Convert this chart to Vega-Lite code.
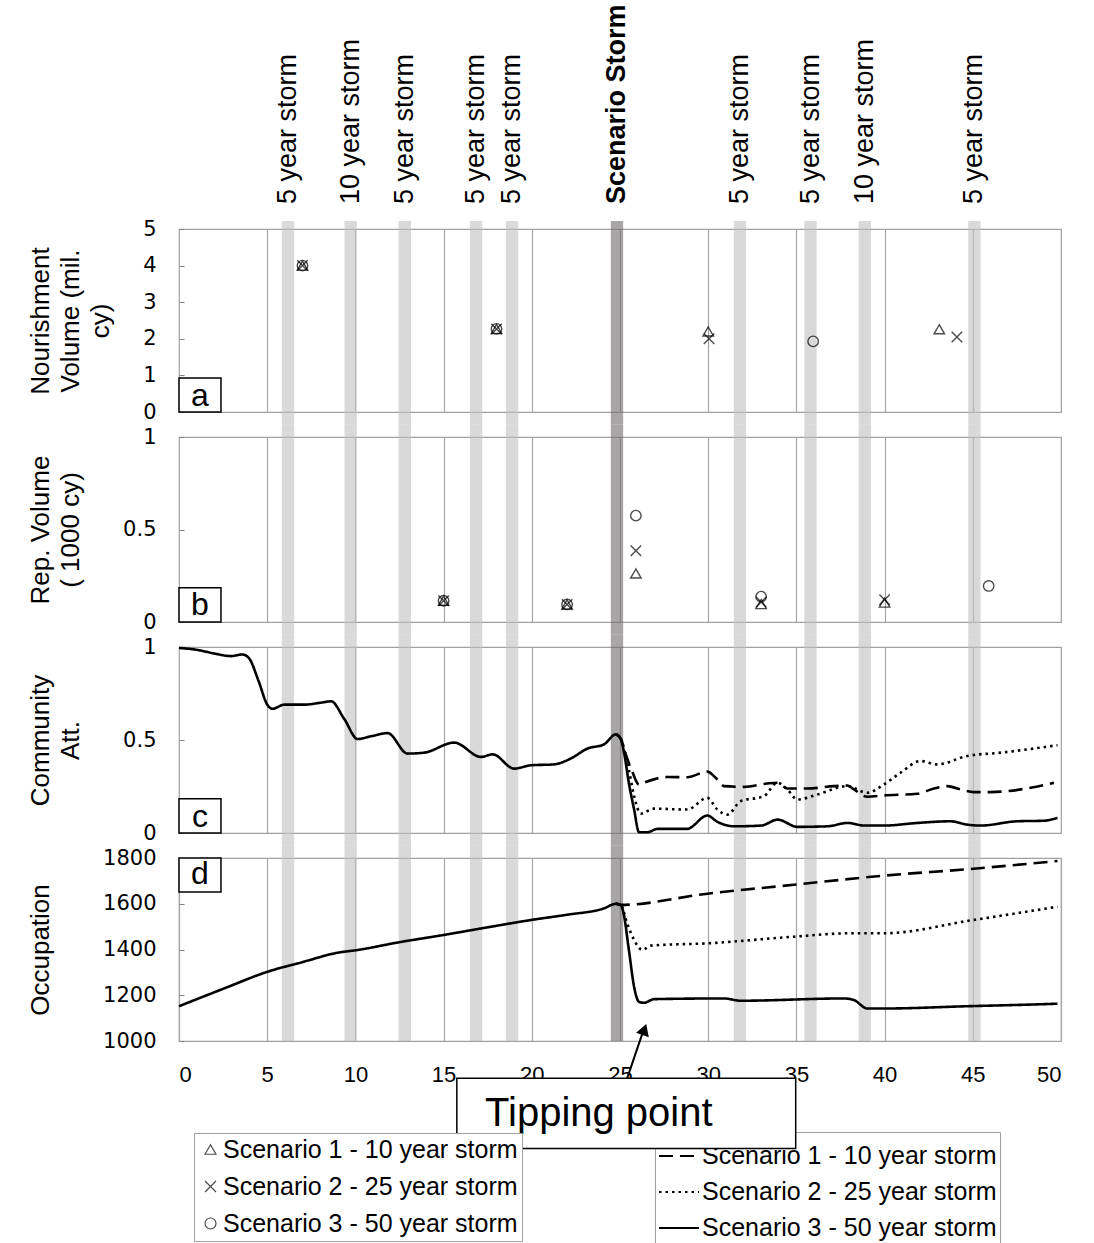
{
  "$schema": "https://vega.github.io/schema/vega-lite/v6.json",
  "background": "white",
  "padding": {"left": 26, "top": 0, "right": 0, "bottom": 0},
  "spacing": 25,
  "bounds": "flush",
  "resolve": {"scale": {"x": "shared", "y": "independent", "shape": "shared", "strokeDash": "shared"}, "legend": {"strokeDash": "independent"}},
  "datasets": {
    "storms": [
      {"start": 5.83, "end": 6.53, "center": 6.18, "label": "5 year storm"},
      {"start": 9.38, "end": 10.08, "center": 9.73, "label": "10 year storm"},
      {"start": 12.45, "end": 13.15, "center": 12.8, "label": "5 year storm"},
      {"start": 16.49, "end": 17.19, "center": 16.84, "label": "5 year storm"},
      {"start": 18.53, "end": 19.23, "center": 18.88, "label": "5 year storm"},
      {"start": 24.48, "end": 25.18, "center": 24.83, "label": "Scenario Storm"},
      {"start": 31.45, "end": 32.15, "center": 31.8, "label": "5 year storm"},
      {"start": 35.45, "end": 36.15, "center": 35.8, "label": "5 year storm"},
      {"start": 38.53, "end": 39.23, "center": 38.88, "label": "10 year storm"},
      {"start": 44.74, "end": 45.44, "center": 45.09, "label": "5 year storm"}
    ],
    "nourishment": [
      {"year": 7, "value": 4.0, "scenario": "Scenario 1 - 10 year storm"},
      {"year": 7, "value": 4.0, "scenario": "Scenario 2 - 25 year storm"},
      {"year": 7, "value": 4.0, "scenario": "Scenario 3 - 50 year storm"},
      {"year": 18, "value": 2.27, "scenario": "Scenario 1 - 10 year storm"},
      {"year": 18, "value": 2.27, "scenario": "Scenario 2 - 25 year storm"},
      {"year": 18, "value": 2.27, "scenario": "Scenario 3 - 50 year storm"},
      {"year": 30, "value": 2.2, "scenario": "Scenario 1 - 10 year storm"},
      {"year": 30.05, "value": 2.0, "scenario": "Scenario 2 - 25 year storm"},
      {"year": 35.95, "value": 1.93, "scenario": "Scenario 3 - 50 year storm"},
      {"year": 43.1, "value": 2.26, "scenario": "Scenario 1 - 10 year storm"},
      {"year": 44.1, "value": 2.05, "scenario": "Scenario 2 - 25 year storm"}
    ],
    "repair": [
      {"year": 15, "value": 0.115, "scenario": "Scenario 1 - 10 year storm"},
      {"year": 15, "value": 0.115, "scenario": "Scenario 2 - 25 year storm"},
      {"year": 15, "value": 0.115, "scenario": "Scenario 3 - 50 year storm"},
      {"year": 22, "value": 0.095, "scenario": "Scenario 1 - 10 year storm"},
      {"year": 22, "value": 0.095, "scenario": "Scenario 2 - 25 year storm"},
      {"year": 22, "value": 0.095, "scenario": "Scenario 3 - 50 year storm"},
      {"year": 25.9, "value": 0.262, "scenario": "Scenario 1 - 10 year storm"},
      {"year": 25.9, "value": 0.385, "scenario": "Scenario 2 - 25 year storm"},
      {"year": 25.9, "value": 0.575, "scenario": "Scenario 3 - 50 year storm"},
      {"year": 33, "value": 0.097, "scenario": "Scenario 1 - 10 year storm"},
      {"year": 33, "value": 0.108, "scenario": "Scenario 2 - 25 year storm"},
      {"year": 33, "value": 0.137, "scenario": "Scenario 3 - 50 year storm"},
      {"year": 40, "value": 0.105, "scenario": "Scenario 1 - 10 year storm"},
      {"year": 40, "value": 0.12, "scenario": "Scenario 2 - 25 year storm"},
      {"year": 45.9, "value": 0.195, "scenario": "Scenario 3 - 50 year storm"}
    ],
    "attitude": [
      {"year": 0, "value": 0.995, "scenario": "Scenario 3 - 50 year storm"},
      {"year": 1, "value": 0.985, "scenario": "Scenario 3 - 50 year storm"},
      {"year": 2, "value": 0.965, "scenario": "Scenario 3 - 50 year storm"},
      {"year": 2.94, "value": 0.951, "scenario": "Scenario 3 - 50 year storm"},
      {"year": 3.6, "value": 0.96, "scenario": "Scenario 3 - 50 year storm"},
      {"year": 3.99, "value": 0.937, "scenario": "Scenario 3 - 50 year storm"},
      {"year": 4.5, "value": 0.82, "scenario": "Scenario 3 - 50 year storm"},
      {"year": 5.03, "value": 0.686, "scenario": "Scenario 3 - 50 year storm"},
      {"year": 5.3, "value": 0.668, "scenario": "Scenario 3 - 50 year storm"},
      {"year": 5.97, "value": 0.69, "scenario": "Scenario 3 - 50 year storm"},
      {"year": 7.1, "value": 0.69, "scenario": "Scenario 3 - 50 year storm"},
      {"year": 8.0, "value": 0.7, "scenario": "Scenario 3 - 50 year storm"},
      {"year": 8.62, "value": 0.708, "scenario": "Scenario 3 - 50 year storm"},
      {"year": 9.37, "value": 0.613, "scenario": "Scenario 3 - 50 year storm"},
      {"year": 10.13, "value": 0.505, "scenario": "Scenario 3 - 50 year storm"},
      {"year": 10.88, "value": 0.52, "scenario": "Scenario 3 - 50 year storm"},
      {"year": 11.83, "value": 0.537, "scenario": "Scenario 3 - 50 year storm"},
      {"year": 12.96, "value": 0.427, "scenario": "Scenario 3 - 50 year storm"},
      {"year": 13.9, "value": 0.432, "scenario": "Scenario 3 - 50 year storm"},
      {"year": 15.6, "value": 0.486, "scenario": "Scenario 3 - 50 year storm"},
      {"year": 17.12, "value": 0.409, "scenario": "Scenario 3 - 50 year storm"},
      {"year": 17.78, "value": 0.423, "scenario": "Scenario 3 - 50 year storm"},
      {"year": 19.0, "value": 0.346, "scenario": "Scenario 3 - 50 year storm"},
      {"year": 19.95, "value": 0.364, "scenario": "Scenario 3 - 50 year storm"},
      {"year": 21.27, "value": 0.369, "scenario": "Scenario 3 - 50 year storm"},
      {"year": 22.2, "value": 0.4, "scenario": "Scenario 3 - 50 year storm"},
      {"year": 23.16, "value": 0.454, "scenario": "Scenario 3 - 50 year storm"},
      {"year": 24.1, "value": 0.477, "scenario": "Scenario 3 - 50 year storm"},
      {"year": 24.77, "value": 0.531, "scenario": "Scenario 3 - 50 year storm"},
      {"year": 25.05, "value": 0.505, "scenario": "Scenario 3 - 50 year storm"},
      {"year": 25.23, "value": 0.432, "scenario": "Scenario 3 - 50 year storm"},
      {"year": 25.5, "value": 0.27, "scenario": "Scenario 3 - 50 year storm"},
      {"year": 25.8, "value": 0.126, "scenario": "Scenario 3 - 50 year storm"},
      {"year": 26.08, "value": 0.004, "scenario": "Scenario 3 - 50 year storm"},
      {"year": 26.55, "value": 0.004, "scenario": "Scenario 3 - 50 year storm"},
      {"year": 27.12, "value": 0.022, "scenario": "Scenario 3 - 50 year storm"},
      {"year": 28.8, "value": 0.022, "scenario": "Scenario 3 - 50 year storm"},
      {"year": 29.95, "value": 0.094, "scenario": "Scenario 3 - 50 year storm"},
      {"year": 30.52, "value": 0.06, "scenario": "Scenario 3 - 50 year storm"},
      {"year": 31.47, "value": 0.036, "scenario": "Scenario 3 - 50 year storm"},
      {"year": 33.0, "value": 0.04, "scenario": "Scenario 3 - 50 year storm"},
      {"year": 33.94, "value": 0.072, "scenario": "Scenario 3 - 50 year storm"},
      {"year": 35.05, "value": 0.033, "scenario": "Scenario 3 - 50 year storm"},
      {"year": 36.75, "value": 0.036, "scenario": "Scenario 3 - 50 year storm"},
      {"year": 37.9, "value": 0.054, "scenario": "Scenario 3 - 50 year storm"},
      {"year": 38.85, "value": 0.04, "scenario": "Scenario 3 - 50 year storm"},
      {"year": 39.96, "value": 0.04, "scenario": "Scenario 3 - 50 year storm"},
      {"year": 41.85, "value": 0.054, "scenario": "Scenario 3 - 50 year storm"},
      {"year": 43.74, "value": 0.063, "scenario": "Scenario 3 - 50 year storm"},
      {"year": 44.68, "value": 0.045, "scenario": "Scenario 3 - 50 year storm"},
      {"year": 45.44, "value": 0.04, "scenario": "Scenario 3 - 50 year storm"},
      {"year": 47.5, "value": 0.063, "scenario": "Scenario 3 - 50 year storm"},
      {"year": 49.02, "value": 0.066, "scenario": "Scenario 3 - 50 year storm"},
      {"year": 49.8, "value": 0.081, "scenario": "Scenario 3 - 50 year storm"},
      {"year": 24.77, "value": 0.531, "scenario": "Scenario 1 - 10 year storm"},
      {"year": 25.05, "value": 0.505, "scenario": "Scenario 1 - 10 year storm"},
      {"year": 25.3, "value": 0.43, "scenario": "Scenario 1 - 10 year storm"},
      {"year": 25.72, "value": 0.324, "scenario": "Scenario 1 - 10 year storm"},
      {"year": 26.08, "value": 0.26, "scenario": "Scenario 1 - 10 year storm"},
      {"year": 26.46, "value": 0.274, "scenario": "Scenario 1 - 10 year storm"},
      {"year": 27.69, "value": 0.301, "scenario": "Scenario 1 - 10 year storm"},
      {"year": 28.82, "value": 0.3, "scenario": "Scenario 1 - 10 year storm"},
      {"year": 29.95, "value": 0.33, "scenario": "Scenario 1 - 10 year storm"},
      {"year": 30.42, "value": 0.297, "scenario": "Scenario 1 - 10 year storm"},
      {"year": 30.9, "value": 0.252, "scenario": "Scenario 1 - 10 year storm"},
      {"year": 32.03, "value": 0.248, "scenario": "Scenario 1 - 10 year storm"},
      {"year": 33.35, "value": 0.266, "scenario": "Scenario 1 - 10 year storm"},
      {"year": 33.92, "value": 0.27, "scenario": "Scenario 1 - 10 year storm"},
      {"year": 34.49, "value": 0.239, "scenario": "Scenario 1 - 10 year storm"},
      {"year": 35.62, "value": 0.239, "scenario": "Scenario 1 - 10 year storm"},
      {"year": 37.13, "value": 0.252, "scenario": "Scenario 1 - 10 year storm"},
      {"year": 37.9, "value": 0.255, "scenario": "Scenario 1 - 10 year storm"},
      {"year": 38.26, "value": 0.234, "scenario": "Scenario 1 - 10 year storm"},
      {"year": 39.02, "value": 0.195, "scenario": "Scenario 1 - 10 year storm"},
      {"year": 39.96, "value": 0.202, "scenario": "Scenario 1 - 10 year storm"},
      {"year": 41.85, "value": 0.211, "scenario": "Scenario 1 - 10 year storm"},
      {"year": 42.8, "value": 0.239, "scenario": "Scenario 1 - 10 year storm"},
      {"year": 43.55, "value": 0.252, "scenario": "Scenario 1 - 10 year storm"},
      {"year": 44.3, "value": 0.234, "scenario": "Scenario 1 - 10 year storm"},
      {"year": 45.06, "value": 0.22, "scenario": "Scenario 1 - 10 year storm"},
      {"year": 46.0, "value": 0.22, "scenario": "Scenario 1 - 10 year storm"},
      {"year": 48.27, "value": 0.243, "scenario": "Scenario 1 - 10 year storm"},
      {"year": 49.6, "value": 0.27, "scenario": "Scenario 1 - 10 year storm"},
      {"year": 24.77, "value": 0.531, "scenario": "Scenario 2 - 25 year storm"},
      {"year": 25.05, "value": 0.505, "scenario": "Scenario 2 - 25 year storm"},
      {"year": 25.5, "value": 0.342, "scenario": "Scenario 2 - 25 year storm"},
      {"year": 25.8, "value": 0.198, "scenario": "Scenario 2 - 25 year storm"},
      {"year": 26.18, "value": 0.104, "scenario": "Scenario 2 - 25 year storm"},
      {"year": 26.93, "value": 0.131, "scenario": "Scenario 2 - 25 year storm"},
      {"year": 28.82, "value": 0.126, "scenario": "Scenario 2 - 25 year storm"},
      {"year": 29.95, "value": 0.189, "scenario": "Scenario 2 - 25 year storm"},
      {"year": 30.52, "value": 0.126, "scenario": "Scenario 2 - 25 year storm"},
      {"year": 31.09, "value": 0.099, "scenario": "Scenario 2 - 25 year storm"},
      {"year": 31.84, "value": 0.171, "scenario": "Scenario 2 - 25 year storm"},
      {"year": 33.16, "value": 0.198, "scenario": "Scenario 2 - 25 year storm"},
      {"year": 33.92, "value": 0.27, "scenario": "Scenario 2 - 25 year storm"},
      {"year": 34.49, "value": 0.234, "scenario": "Scenario 2 - 25 year storm"},
      {"year": 35.05, "value": 0.18, "scenario": "Scenario 2 - 25 year storm"},
      {"year": 36.19, "value": 0.207, "scenario": "Scenario 2 - 25 year storm"},
      {"year": 37.9, "value": 0.252, "scenario": "Scenario 2 - 25 year storm"},
      {"year": 39.02, "value": 0.216, "scenario": "Scenario 2 - 25 year storm"},
      {"year": 39.96, "value": 0.261, "scenario": "Scenario 2 - 25 year storm"},
      {"year": 40.9, "value": 0.324, "scenario": "Scenario 2 - 25 year storm"},
      {"year": 42.04, "value": 0.387, "scenario": "Scenario 2 - 25 year storm"},
      {"year": 42.98, "value": 0.369, "scenario": "Scenario 2 - 25 year storm"},
      {"year": 44.68, "value": 0.414, "scenario": "Scenario 2 - 25 year storm"},
      {"year": 46.6, "value": 0.432, "scenario": "Scenario 2 - 25 year storm"},
      {"year": 49.8, "value": 0.472, "scenario": "Scenario 2 - 25 year storm"}
    ],
    "occupation": [
      {"year": 0, "value": 1152, "scenario": "Scenario 3 - 50 year storm"},
      {"year": 2.5, "value": 1228, "scenario": "Scenario 3 - 50 year storm"},
      {"year": 5.03, "value": 1303, "scenario": "Scenario 3 - 50 year storm"},
      {"year": 7, "value": 1345, "scenario": "Scenario 3 - 50 year storm"},
      {"year": 9.0, "value": 1386, "scenario": "Scenario 3 - 50 year storm"},
      {"year": 10.13, "value": 1398, "scenario": "Scenario 3 - 50 year storm"},
      {"year": 12.5, "value": 1432, "scenario": "Scenario 3 - 50 year storm"},
      {"year": 15.04, "value": 1464, "scenario": "Scenario 3 - 50 year storm"},
      {"year": 17.5, "value": 1497, "scenario": "Scenario 3 - 50 year storm"},
      {"year": 20.04, "value": 1530, "scenario": "Scenario 3 - 50 year storm"},
      {"year": 22, "value": 1552, "scenario": "Scenario 3 - 50 year storm"},
      {"year": 24.1, "value": 1580, "scenario": "Scenario 3 - 50 year storm"},
      {"year": 24.77, "value": 1600, "scenario": "Scenario 3 - 50 year storm"},
      {"year": 25.05, "value": 1595, "scenario": "Scenario 3 - 50 year storm"},
      {"year": 25.2, "value": 1559, "scenario": "Scenario 3 - 50 year storm"},
      {"year": 25.5, "value": 1400, "scenario": "Scenario 3 - 50 year storm"},
      {"year": 25.8, "value": 1237, "scenario": "Scenario 3 - 50 year storm"},
      {"year": 26.08, "value": 1171, "scenario": "Scenario 3 - 50 year storm"},
      {"year": 26.37, "value": 1167, "scenario": "Scenario 3 - 50 year storm"},
      {"year": 26.93, "value": 1183, "scenario": "Scenario 3 - 50 year storm"},
      {"year": 30.9, "value": 1186, "scenario": "Scenario 3 - 50 year storm"},
      {"year": 31.84, "value": 1176, "scenario": "Scenario 3 - 50 year storm"},
      {"year": 37.7, "value": 1186, "scenario": "Scenario 3 - 50 year storm"},
      {"year": 38.26, "value": 1179, "scenario": "Scenario 3 - 50 year storm"},
      {"year": 39.02, "value": 1142, "scenario": "Scenario 3 - 50 year storm"},
      {"year": 39.96, "value": 1142, "scenario": "Scenario 3 - 50 year storm"},
      {"year": 44.68, "value": 1152, "scenario": "Scenario 3 - 50 year storm"},
      {"year": 49.02, "value": 1161, "scenario": "Scenario 3 - 50 year storm"},
      {"year": 49.8, "value": 1163, "scenario": "Scenario 3 - 50 year storm"},
      {"year": 24.77, "value": 1600, "scenario": "Scenario 1 - 10 year storm"},
      {"year": 25.05, "value": 1595, "scenario": "Scenario 1 - 10 year storm"},
      {"year": 29.95, "value": 1644, "scenario": "Scenario 1 - 10 year storm"},
      {"year": 34.86, "value": 1683, "scenario": "Scenario 1 - 10 year storm"},
      {"year": 39.96, "value": 1723, "scenario": "Scenario 1 - 10 year storm"},
      {"year": 44.87, "value": 1752, "scenario": "Scenario 1 - 10 year storm"},
      {"year": 49.8, "value": 1787, "scenario": "Scenario 1 - 10 year storm"},
      {"year": 24.77, "value": 1600, "scenario": "Scenario 2 - 25 year storm"},
      {"year": 25.05, "value": 1595, "scenario": "Scenario 2 - 25 year storm"},
      {"year": 25.4, "value": 1515, "scenario": "Scenario 2 - 25 year storm"},
      {"year": 25.8, "value": 1442, "scenario": "Scenario 2 - 25 year storm"},
      {"year": 26.27, "value": 1398, "scenario": "Scenario 2 - 25 year storm"},
      {"year": 26.74, "value": 1417, "scenario": "Scenario 2 - 25 year storm"},
      {"year": 29.95, "value": 1427, "scenario": "Scenario 2 - 25 year storm"},
      {"year": 34.86, "value": 1456, "scenario": "Scenario 2 - 25 year storm"},
      {"year": 38.07, "value": 1471, "scenario": "Scenario 2 - 25 year storm"},
      {"year": 39.96, "value": 1471, "scenario": "Scenario 2 - 25 year storm"},
      {"year": 44.87, "value": 1527, "scenario": "Scenario 2 - 25 year storm"},
      {"year": 49.8, "value": 1587, "scenario": "Scenario 2 - 25 year storm"}
    ]
  },
  "vconcat": [
    {
      "width": 882,
      "height": 204,
      "view": {"stroke": null},
      "data": {"name": "storms"},
      "layer": [
        {
          "transform": [{"filter": "datum.label !== 'Scenario Storm'"}],
          "mark": {"type": "text", "angle": 270, "align": "left", "baseline": "middle", "fontSize": 27, "color": "black"},
          "encoding": {
            "x": {"field": "center", "type": "quantitative", "scale": {"domain": [0, 50], "nice": false}, "axis": null},
            "y": {"datum": 0, "type": "quantitative", "scale": {"domain": [0, 1]}, "axis": null},
            "text": {"field": "label"}
          }
        },
        {
          "transform": [{"filter": "datum.label === 'Scenario Storm'"}],
          "mark": {"type": "text", "angle": 270, "align": "left", "baseline": "middle", "fontSize": 27, "fontWeight": "bold", "color": "black"},
          "encoding": {
            "x": {"field": "center", "type": "quantitative", "axis": null},
            "y": {"datum": 0, "type": "quantitative", "axis": null},
            "text": {"field": "label"}
          }
        }
      ]
    },
    {
      "width": 882,
      "height": 183,
      "layer": [
        {
          "data": {"name": "storms"},
          "mark": {"type": "rect", "opacity": 0.6},
          "encoding": {
            "x": {"field": "start", "type": "quantitative", "scale": {"domain": [0, 50], "nice": false},
                  "axis": {"title": null, "labels": false, "ticks": false, "grid": true, "values": [5, 10, 15, 20, 25, 30, 35, 40, 45]}},
            "x2": {"field": "end"},
            "y": {"datum": -0.34, "type": "quantitative", "scale": {"domain": [0, 5], "nice": false}, "axis": {"title": ["Nourishment", "Volume (mil.", "cy)"], "tickCount": 5, "labelOverlap": false}},
            "y2": {"datum": 5.22},
            "color": {"condition": {"test": "datum.label === 'Scenario Storm'", "value": "#6e6a6a"}, "value": "#bfbfbf"}
          }
        },
        {
          "data": {"name": "nourishment"},
          "mark": {"type": "point", "filled": false, "strokeWidth": 1.4, "size": 110, "color": "black"},
          "encoding": {
            "x": {"field": "year", "type": "quantitative", "axis": {"title": null, "labels": false, "ticks": false, "grid": true, "values": [5, 10, 15, 20, 25, 30, 35, 40, 45]}},
            "y": {"field": "value", "type": "quantitative", "scale": {"domain": [0, 5], "nice": false},
                  "axis": {"title": ["Nourishment", "Volume (mil.", "cy)"], "tickCount": 5, "labelOverlap": false, "labelSeparation": 0, "labelBound": false}},
            "shape": {"field": "scenario", "type": "nominal",
                      "scale": {"domain": ["Scenario 1 - 10 year storm", "Scenario 2 - 25 year storm", "Scenario 3 - 50 year storm"], "range": ["triangle-up", "M-1,-1L1,1M-1,1L1,-1", "circle"]},
                      "legend": {"title": null, "orient": "none", "legendX": 15, "legendY": 1133, "direction": "vertical", "strokeColor": "#a0a0a0", "fillColor": "white", "padding": 4, "labelFontSize": 25, "labelColor": "black", "symbolSize": 120, "symbolStrokeWidth": 1.2, "symbolStrokeColor": "black", "symbolFillColor": "transparent", "rowPadding": 11, "labelOffset": 0, "labelLimit": 400}}
          }
        },
        {
          "data": {"values": [{}]},
          "mark": {"type": "rect", "fill": "white", "stroke": "black", "strokeWidth": 1.5},
          "encoding": {"x": {"datum": 0}, "x2": {"datum": 2.38}, "y": {"datum": 0, "axis": {"title": ["Nourishment", "Volume (mil.", "cy)"], "tickCount": 5, "labelOverlap": false}}, "y2": {"datum": 0.93}}
        },
        {
          "data": {"values": [{}]},
          "mark": {"type": "text", "fontSize": 32, "align": "center", "baseline": "middle", "color": "black"},
          "encoding": {"x": {"datum": 1.19}, "y": {"datum": 0.45, "axis": {"title": ["Nourishment", "Volume (mil.", "cy)"], "tickCount": 5, "labelOverlap": false}}, "text": {"value": "a"}}
        }
      ]
    },
    {
      "width": 882,
      "height": 185,
      "layer": [
        {
          "data": {"name": "storms"},
          "mark": {"type": "rect", "opacity": 0.6},
          "encoding": {
            "x": {"field": "start", "type": "quantitative", "scale": {"domain": [0, 50], "nice": false},
                  "axis": {"title": null, "labels": false, "ticks": false, "grid": true, "values": [5, 10, 15, 20, 25, 30, 35, 40, 45]}},
            "x2": {"field": "end"},
            "y": {"datum": -0.068, "type": "quantitative", "scale": {"domain": [0, 1], "nice": false}, "axis": {"title": ["Rep. Volume", "( 1000 cy)"], "values": [0, 0.5, 1], "format": "~g", "labelOverlap": false}},
            "y2": {"datum": 1.068},
            "color": {"condition": {"test": "datum.label === 'Scenario Storm'", "value": "#6e6a6a"}, "value": "#bfbfbf"}
          }
        },
        {
          "data": {"name": "repair"},
          "mark": {"type": "point", "filled": false, "strokeWidth": 1.4, "size": 110, "color": "black"},
          "encoding": {
            "x": {"field": "year", "type": "quantitative", "axis": {"title": null, "labels": false, "ticks": false, "grid": true, "values": [5, 10, 15, 20, 25, 30, 35, 40, 45]}},
            "y": {"field": "value", "type": "quantitative", "scale": {"domain": [0, 1], "nice": false},
                  "axis": {"title": ["Rep. Volume", "( 1000 cy)"], "values": [0, 0.5, 1], "format": "~g", "labelOverlap": false}},
            "shape": {"field": "scenario", "type": "nominal",
                      "scale": {"domain": ["Scenario 1 - 10 year storm", "Scenario 2 - 25 year storm", "Scenario 3 - 50 year storm"], "range": ["triangle-up", "M-1,-1L1,1M-1,1L1,-1", "circle"]},
                      "legend": {"title": null, "orient": "none", "legendX": 15, "legendY": 1133, "direction": "vertical", "strokeColor": "#a0a0a0", "fillColor": "white", "padding": 4, "labelFontSize": 25, "labelColor": "black", "symbolSize": 120, "symbolStrokeWidth": 1.2, "symbolStrokeColor": "black", "symbolFillColor": "transparent", "rowPadding": 11, "labelOffset": 0, "labelLimit": 400}}
          }
        },
        {
          "data": {"values": [{}]},
          "mark": {"type": "rect", "fill": "white", "stroke": "black", "strokeWidth": 1.5},
          "encoding": {"x": {"datum": 0}, "x2": {"datum": 2.38}, "y": {"datum": 0}, "y2": {"datum": 0.185}}
        },
        {
          "data": {"values": [{}]},
          "mark": {"type": "text", "fontSize": 32, "align": "center", "baseline": "middle", "color": "black"},
          "encoding": {"x": {"datum": 1.19}, "y": {"datum": 0.092}, "text": {"value": "b"}}
        }
      ]
    },
    {
      "width": 882,
      "height": 186,
      "layer": [
        {
          "data": {"name": "storms"},
          "mark": {"type": "rect", "opacity": 0.6},
          "encoding": {
            "x": {"field": "start", "type": "quantitative", "scale": {"domain": [0, 50], "nice": false},
                  "axis": {"title": null, "labels": false, "ticks": false, "grid": true, "values": [5, 10, 15, 20, 25, 30, 35, 40, 45]}},
            "x2": {"field": "end"},
            "y": {"datum": -0.067, "type": "quantitative", "scale": {"domain": [0, 1], "nice": false}, "axis": {"title": ["Community", "Att."], "values": [0, 0.5, 1], "format": "~g", "labelOverlap": false}},
            "y2": {"datum": 1.067},
            "color": {"condition": {"test": "datum.label === 'Scenario Storm'", "value": "#6e6a6a"}, "value": "#bfbfbf"}
          }
        },
        {
          "data": {"name": "attitude"},
          "mark": {"type": "line", "interpolate": "monotone", "strokeWidth": 2.6, "color": "black"},
          "encoding": {
            "x": {"field": "year", "type": "quantitative", "axis": {"title": null, "labels": false, "ticks": false, "grid": true, "values": [5, 10, 15, 20, 25, 30, 35, 40, 45]}},
            "y": {"field": "value", "type": "quantitative", "scale": {"domain": [0, 1], "nice": false},
                  "axis": {"title": ["Community", "Att."], "values": [0, 0.5, 1], "format": "~g", "labelOverlap": false}},
            "strokeDash": {"field": "scenario", "type": "nominal",
                           "scale": {"domain": ["Scenario 1 - 10 year storm", "Scenario 2 - 25 year storm", "Scenario 3 - 50 year storm"], "range": [[14, 7], [2.5, 4], [1, 0]]},
                           "legend": {"title": null, "orient": "none", "legendX": 476, "legendY": 485, "direction": "vertical", "symbolType": "stroke", "symbolSize": 1600, "symbolStrokeWidth": 2, "symbolStrokeColor": "black", "strokeColor": "#a0a0a0", "fillColor": "white", "padding": 3, "labelFontSize": 25, "labelColor": "black", "rowPadding": 2, "labelOffset": 2, "labelLimit": 400}}
          }
        },
        {
          "data": {"values": [{}]},
          "mark": {"type": "rect", "fill": "white", "stroke": "black", "strokeWidth": 1.5},
          "encoding": {"x": {"datum": 0}, "x2": {"datum": 2.38}, "y": {"datum": 0}, "y2": {"datum": 0.184}}
        },
        {
          "data": {"values": [{}]},
          "mark": {"type": "text", "fontSize": 32, "align": "center", "baseline": "middle", "color": "black"},
          "encoding": {"x": {"datum": 1.19}, "y": {"datum": 0.085}, "text": {"value": "c"}}
        }
      ]
    },
    {
      "width": 882,
      "height": 183,
      "layer": [
        {
          "data": {"name": "storms"},
          "mark": {"type": "rect", "opacity": 0.6},
          "encoding": {
            "x": {"field": "start", "type": "quantitative", "scale": {"domain": [0, 50], "nice": false},
                  "axis": {"title": null, "grid": true, "values": [0, 5, 10, 15, 20, 25, 30, 35, 40, 45, 50]}},
            "x2": {"field": "end"},
            "y": {"datum": 1000, "type": "quantitative", "scale": {"domain": [1000, 1800], "nice": false}, "axis": {"title": "Occupation", "values": [1000, 1200, 1400, 1600, 1800], "format": "d", "labelOverlap": false}},
            "y2": {"datum": 1855},
            "color": {"condition": {"test": "datum.label === 'Scenario Storm'", "value": "#6e6a6a"}, "value": "#bfbfbf"}
          }
        },
        {
          "data": {"name": "occupation"},
          "mark": {"type": "line", "interpolate": "monotone", "strokeWidth": 2.6, "color": "black"},
          "encoding": {
            "x": {"field": "year", "type": "quantitative", "axis": {"title": null, "grid": true, "values": [0, 5, 10, 15, 20, 25, 30, 35, 40, 45, 50]}},
            "y": {"field": "value", "type": "quantitative", "scale": {"domain": [1000, 1800], "nice": false},
                  "axis": {"title": "Occupation", "values": [1000, 1200, 1400, 1600, 1800], "format": "d", "labelOverlap": false}},
            "strokeDash": {"field": "scenario", "type": "nominal", "legend": null}
          }
        },
        {
          "data": {"values": [{}]},
          "mark": {"type": "rect", "fill": "white", "stroke": "black", "strokeWidth": 1.5},
          "encoding": {"x": {"datum": 0}, "x2": {"datum": 2.38}, "y": {"datum": 1800}, "y2": {"datum": 1651}}
        },
        {
          "data": {"values": [{}]},
          "mark": {"type": "text", "fontSize": 32, "align": "center", "baseline": "middle", "color": "black"},
          "encoding": {"x": {"datum": 1.19}, "y": {"datum": 1728}, "text": {"value": "d"}}
        },
        {
          "data": {"values": [{}]},
          "mark": {"type": "rule", "strokeWidth": 2, "color": "black"},
          "encoding": {"x": {"datum": 25.0}, "y": {"datum": 745}, "x2": {"datum": 26.3}, "y2": {"datum": 1040}}
        },
        {
          "data": {"values": [{}]},
          "mark": {"type": "point", "shape": "triangle-up", "filled": true, "color": "black", "size": 180, "angle": 19, "opacity": 1},
          "encoding": {"x": {"datum": 26.38}, "y": {"datum": 1050}}
        },
        {
          "data": {"values": [{}]},
          "mark": {"type": "rect", "fill": "white", "stroke": "black", "strokeWidth": 1.5},
          "encoding": {"x": {"datum": 15.75}, "x2": {"datum": 34.96}, "y": {"datum": 837}, "y2": {"datum": 530}}
        },
        {
          "data": {"values": [{}]},
          "mark": {"type": "text", "fontSize": 40, "align": "center", "baseline": "middle", "color": "black"},
          "encoding": {"x": {"datum": 23.8}, "y": {"datum": 680}, "text": {"value": "Tipping point"}}
        }
      ]
    }
  ],
  "config": {
    "font": "Liberation Sans",
    "view": {"stroke": "#a0a0a0", "strokeWidth": 1.2},
    "axis": {"labelColor": "black", "titleColor": "black", "domain": false, "gridColor": "#a6a6a6", "gridWidth": 1.2, "labelOverlap": false},
    "axisX": {"ticks": false, "labelFontSize": 22, "labelPadding": 23},
    "axisY": {"grid": false, "labelFont": "DejaVu Sans", "labelFontSize": 21, "tickSize": -5, "tickColor": "#808080", "labelPadding": 28,
              "titleFont": "Liberation Sans", "titleFontSize": 26, "titleFontWeight": "normal", "titleX": -152, "titleBaseline": "top", "titleLineHeight": 30}
  }
}
